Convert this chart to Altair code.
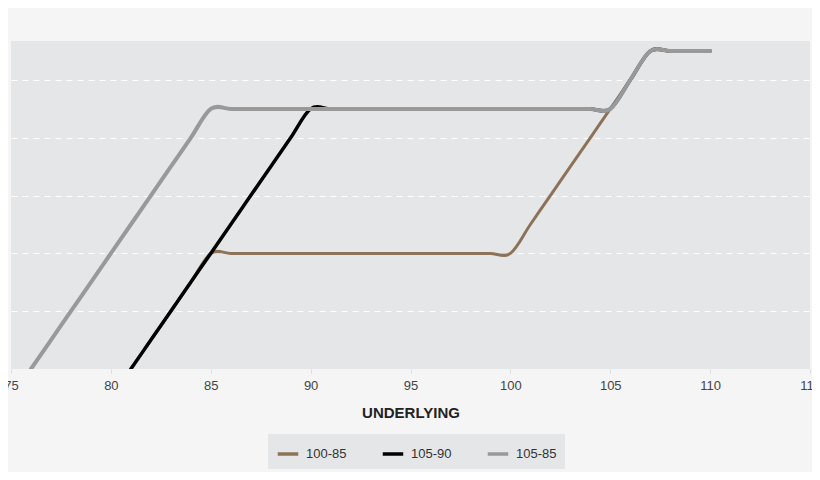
import altair as alt
import pandas as pd

series_names = ["100-85", "105-90", "105-85"]
colors = ["#8c7258", "#000000", "#999999"]

x_100_85 = [81, 82, 83, 84, 85, 86, 87, 88, 89, 90, 91, 92, 93, 94, 95, 96, 97, 98, 99, 100,
            101, 102, 103, 104, 105, 106, 107, 108, 109, 110]
y_100_85 = [0, 1, 2, 3, 4, 4, 4, 4, 4, 4, 4, 4, 4, 4, 4, 4, 4, 4, 4, 4,
            5, 6, 7, 8, 9, 10, 11, 11, 11, 11]

x_105_90 = [81, 82, 83, 84, 85, 86, 87, 88, 89, 90, 91, 92, 93, 94, 95, 96, 97, 98, 99, 100,
            101, 102, 103, 104, 105, 106, 107, 108, 109, 110]
y_105_90 = [0, 1, 2, 3, 4, 5, 6, 7, 8, 9, 9, 9, 9, 9, 9, 9, 9, 9, 9, 9,
            9, 9, 9, 9, 9, 10, 11, 11, 11, 11]

x_105_85 = [76, 77, 78, 79, 80, 81, 82, 83, 84, 85, 86, 87, 88, 89, 90, 91, 92, 93, 94, 95,
            96, 97, 98, 99, 100, 101, 102, 103, 104, 105, 106, 107, 108, 109, 110]
y_105_85 = [0, 1, 2, 3, 4, 5, 6, 7, 8, 9, 9, 9, 9, 9, 9, 9, 9, 9, 9, 9,
            9, 9, 9, 9, 9, 9, 9, 9, 9, 9, 10, 11, 11, 11, 11]

x_ticks = [75, 80, 85, 90, 95, 100, 105, 110, 115]
y_grid = [2, 4, 6, 8, 10]

frames = []
for i, (name, xs, ys) in enumerate([
    ("100-85", x_100_85, y_100_85),
    ("105-90", x_105_90, y_105_90),
    ("105-85", x_105_85, y_105_85),
]):
    frames.append(pd.DataFrame({"underlying": xs, "value": ys, "series": name, "order": i}))
df = pd.concat(frames, ignore_index=True)

color_scale = alt.Scale(domain=series_names, range=colors)

base = alt.Chart(df)

lines = []
widths = {"100-85": 3, "105-90": 3.5, "105-85": 4}
for name in series_names:
    lines.append(
        base.transform_filter(alt.datum.series == name)
        .mark_line(interpolate="cardinal", strokeWidth=widths[name], clip=True, strokeCap="round")
        .encode(
            x=alt.X("underlying:Q",
                    scale=alt.Scale(domain=[75, 115], nice=False, zero=False),
                    axis=alt.Axis(title="UNDERLYING", values=x_ticks, grid=False, domain=False,
                                  ticks=True, tickSize=4, tickColor="#dddddd",
                                  labelColor="#444444", labelFontSize=13, labelPadding=6,
                                  labelFont="Liberation Sans", titleFont="Liberation Sans",
                                  titleFontSize=15, titleFontWeight="bold", titleColor="#222222",
                                  titlePadding=13, labelFlush=False)),
            y=alt.Y("value:Q",
                    scale=alt.Scale(domain=[0, 11.35], nice=False, zero=False),
                    axis=alt.Axis(title=None, values=y_grid, labels=False, ticks=False, domain=False,
                                  grid=True, gridColor="#ffffff", gridDash=[6, 5], gridWidth=1)),
            color=alt.Color("series:N", scale=color_scale,
                            legend=alt.Legend(title=None, orient="none", direction="horizontal",
                                              legendX=257, legendY=393,
                                              fillColor="#e5e6e8", padding=8,
                                              symbolType="stroke", symbolStrokeWidth=3.5,
                                              symbolSize=420, labelFontSize=13,
                                              labelFont="Liberation Sans", labelColor="#333333",
                                              columnPadding=28, labelOffset=6)),
        )
    )

chart = alt.layer(*lines).properties(
    width=799,
    height=328,
    autosize=alt.AutoSizeParams(type="none"),
    padding={"left": 3, "top": 33, "right": 2, "bottom": 103},
).configure(background="#f5f5f5").configure_view(fill="#e5e6e8", stroke=None)

chart.save("out.html", embed_options={"renderer": "svg", "actions": False})
